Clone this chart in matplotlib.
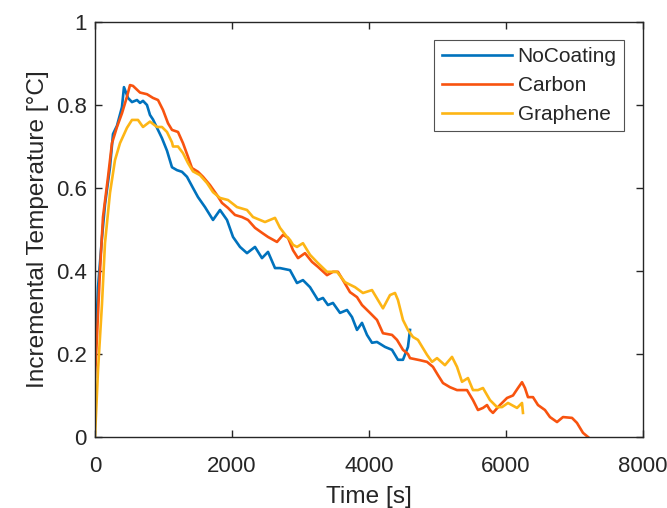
import matplotlib
matplotlib.use("Agg")
import matplotlib.pyplot as plt

# NoCoating
t_nocoat = [0, 44, 102, 146, 219, 263, 321, 394, 423, 482, 540, 613, 657, 701, 759, 803,
            847, 905, 949, 978, 1051, 1124, 1197, 1270, 1343, 1431, 1504, 1606, 1723, 1825,
            1927, 2015, 2117, 2219, 2336, 2438, 2526, 2628, 2701, 2847, 2949, 3036, 3139,
            3255, 3328, 3401, 3474, 3577, 3679, 3752, 3825, 3898, 3971, 4044, 4117, 4234,
            4336, 4423, 4496, 4569, 4599]
T_nocoat = [0.174, 0.36, 0.48, 0.56, 0.65, 0.73, 0.75, 0.795, 0.843, 0.817, 0.807, 0.812,
            0.805, 0.81, 0.80, 0.776, 0.765, 0.745, 0.73, 0.72, 0.69, 0.65, 0.643, 0.639,
            0.627, 0.60, 0.578, 0.554, 0.523, 0.547, 0.523, 0.482, 0.458, 0.443, 0.458,
            0.431, 0.446, 0.407, 0.407, 0.402, 0.371, 0.378, 0.361, 0.33, 0.335, 0.318,
            0.323, 0.299, 0.306, 0.289, 0.258, 0.275, 0.246, 0.227, 0.229, 0.217, 0.21,
            0.186, 0.186, 0.217, 0.258]

# Carbon
t_carbon = [0, 29, 73, 117, 190, 248, 321, 394, 467, 511, 555, 657, 759, 847, 920, 993,
            1066, 1124, 1212, 1285, 1358, 1416, 1504, 1577, 1679, 1781, 1854, 1942, 2044,
            2146, 2234, 2336, 2438, 2526, 2657, 2745, 2818, 2891, 2964, 3066, 3168, 3255,
            3387, 3474, 3547, 3620, 3723, 3825, 3898, 4015, 4117, 4204, 4336, 4409, 4496,
            4569, 4599, 4745, 4847, 4934, 5007, 5080, 5182, 5285, 5431, 5518, 5591, 5664,
            5723, 5766, 5810, 5912, 6015, 6102, 6175, 6234, 6277, 6321, 6394, 6467, 6569,
            6642, 6745, 6832, 6964, 7036, 7124, 7197]
T_carbon = [0.145, 0.24, 0.40, 0.53, 0.626, 0.708, 0.747, 0.78, 0.82, 0.848, 0.846, 0.83,
            0.826, 0.817, 0.812, 0.788, 0.756, 0.74, 0.735, 0.708, 0.675, 0.648, 0.639,
            0.627, 0.607, 0.583, 0.564, 0.552, 0.535, 0.53, 0.523, 0.504, 0.492, 0.482,
            0.47, 0.487, 0.48, 0.45, 0.431, 0.443, 0.422, 0.41, 0.39, 0.398, 0.398, 0.378,
            0.349, 0.337, 0.318, 0.299, 0.282, 0.25, 0.246, 0.234, 0.21, 0.20, 0.19, 0.185,
            0.181, 0.169, 0.149, 0.13, 0.12, 0.113, 0.113, 0.089, 0.065, 0.07, 0.077, 0.065,
            0.058, 0.077, 0.094, 0.10, 0.118, 0.132, 0.118, 0.096, 0.096, 0.077, 0.065,
            0.048, 0.036, 0.048, 0.046, 0.034, 0.01, 0.0]

# Graphene
t_graph = [0, 44, 102, 146, 219, 292, 365, 467, 540, 628, 701, 803, 905, 978, 1051, 1124,
           1139, 1212, 1285, 1358, 1431, 1533, 1635, 1723, 1825, 1942, 2073, 2219, 2307,
           2409, 2482, 2628, 2701, 2803, 2847, 2891, 2949, 3036, 3139, 3255, 3387, 3533,
           3650, 3796, 3912, 4044, 4131, 4204, 4307, 4380, 4423, 4496, 4569, 4642, 4715,
           4788, 4847, 4920, 4993, 5109, 5212, 5285, 5358, 5445, 5518, 5591, 5664, 5766,
           5869, 5942, 6029, 6161, 6234, 6248]
T_graph = [0.0, 0.16, 0.32, 0.467, 0.588, 0.667, 0.708, 0.745, 0.764, 0.764, 0.747, 0.76,
           0.747, 0.747, 0.735, 0.71, 0.70, 0.70, 0.684, 0.66, 0.64, 0.631, 0.612, 0.59,
           0.576, 0.571, 0.554, 0.547, 0.53, 0.523, 0.518, 0.528, 0.504, 0.482, 0.475,
           0.463, 0.458, 0.467, 0.439, 0.419, 0.398, 0.398, 0.373, 0.361, 0.347, 0.354,
           0.33, 0.31, 0.342, 0.347, 0.33, 0.282, 0.258, 0.241, 0.234, 0.214, 0.198,
           0.181, 0.19, 0.173, 0.193, 0.169, 0.133, 0.142, 0.113, 0.113, 0.118, 0.089,
           0.072, 0.072, 0.082, 0.07, 0.082, 0.058]

plt.rcParams['font.family'] = ['Liberation Sans', 'DejaVu Sans']
txt = '#262626'

fig = plt.figure(figsize=(6.67, 5.08), dpi=100)
ax = fig.add_axes([0.1424, 0.1398, 0.8216, 0.8169])

ax.plot(t_nocoat, T_nocoat, color='#0072BD', lw=1.9, label='NoCoating')
ax.plot(t_carbon, T_carbon, color='#F8530F', lw=1.9, label='Carbon')
ax.plot(t_graph, T_graph, color='#FDB515', lw=1.9, label='Graphene')

ax.set_xlim(0, 8000)
ax.set_ylim(0, 1)
ax.set_xticks([0, 2000, 4000, 6000, 8000])
ax.set_yticks([0, 0.2, 0.4, 0.6, 0.8, 1])
ax.set_yticklabels(['0', '0.2', '0.4', '0.6', '0.8', '1'])
ax.tick_params(direction='in', length=5, width=1, colors=txt, labelsize=16,
               top=True, right=True)
ax.tick_params(axis='x', pad=13.5)
ax.tick_params(axis='y', pad=6)
for s in ax.spines.values():
    s.set_color(txt)
    s.set_linewidth(1)

ax.set_xlabel('Time [s]', fontsize=17.6, color=txt, labelpad=7)
ax.set_ylabel('Incremental Temperature [°C]', fontsize=17.6, color=txt, labelpad=5)

leg = ax.legend(loc='upper right', bbox_to_anchor=(0.9653, 0.9566), fontsize=15,
                frameon=True, fancybox=False, handlelength=3.4, handletextpad=0.25,
                borderpad=0.35, labelspacing=0.47, borderaxespad=0)
leg.get_frame().set_edgecolor(txt)
leg.get_frame().set_linewidth(0.8)
for tx in leg.get_texts():
    tx.set_color(txt)

fig.savefig('out.png', dpi=100)
